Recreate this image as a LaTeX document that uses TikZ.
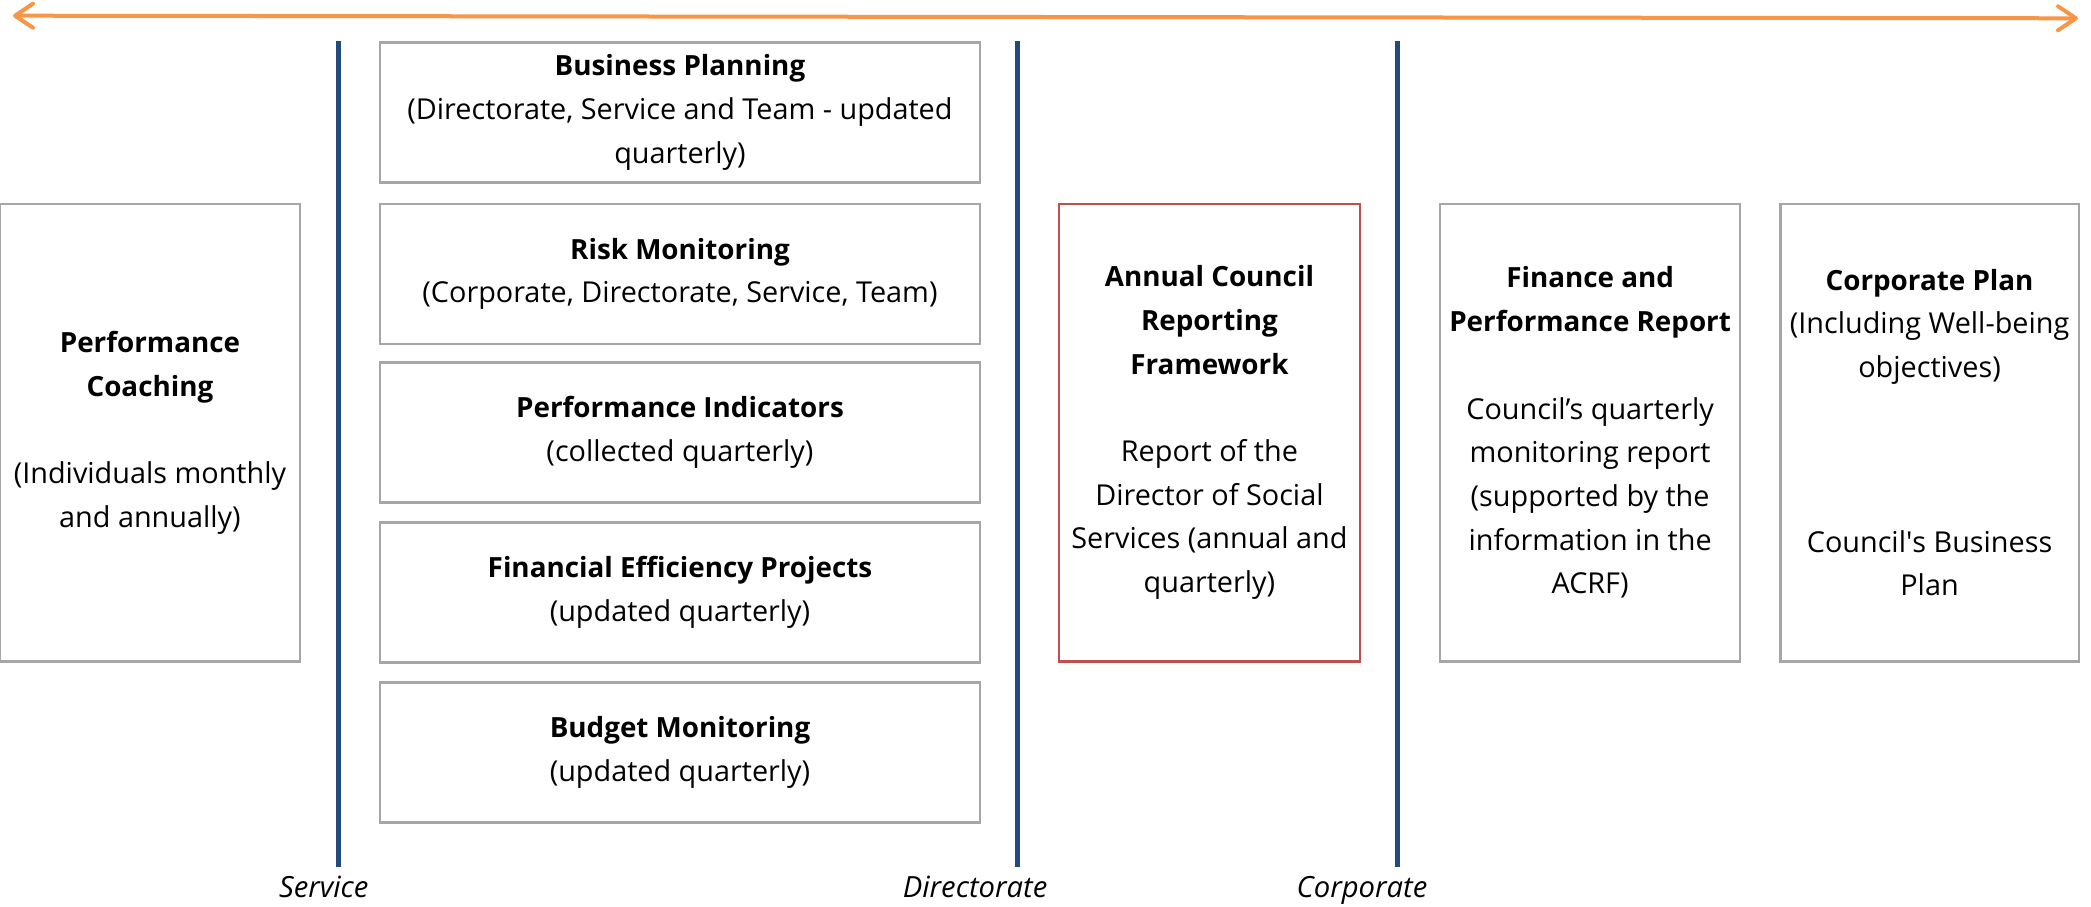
\documentclass[tikz,border=0pt]{standalone}
\usepackage{fontspec}
\setmainfont{Open Sans}
\usetikzlibrary{arrows.meta}
\definecolor{boxgray}{HTML}{A6A6A6}
\definecolor{acrfred}{HTML}{C0504D}
\definecolor{tierblue}{HTML}{24497E}
\definecolor{spanorange}{HTML}{F79646}
% bold panel headings, set a touch smaller than the body text
\newcommand\headline[1]{{\fontsize{27.8}{43.7}\selectfont\bfseries #1}}
% a straight (typewriter) apostrophe
\newcommand\straightquote{\XeTeXglyph\XeTeXcharglyph"27\relax}

\begin{document}
\begin{tikzpicture}[x=1pt,y=-1pt,
  panel/.style={draw=boxgray, line width=2.5pt, inner sep=0pt, align=center,
    anchor=north west, font=\fontsize{28.8}{43.7}\selectfont},
  widepanel/.style={panel, minimum width=600.1pt, minimum height=140pt},
  tallpanel/.style={panel, minimum height=457.3pt},
  tierline/.style={draw=tierblue, line width=4.5pt},
  tierlabel/.style={anchor=base east, inner sep=0pt, font=\fontsize{29.2}{34}\selectfont\itshape},
  span/.style={draw=spanorange, line width=4pt, line cap=round,
    {Straight Barb[length=18pt,width=24pt,round]}-{Straight Barb[length=18pt,width=24pt,round]}}
]
\useasboundingbox (0,0) rectangle (2091,907);

% span arrow across the whole framework
\coordinate (spanL) at (13,15.7);
\coordinate (spanR) at (2078,18.3);
\draw[span] (spanL) -- (spanR);

% tier dividers
\coordinate (svcTop) at (338.7,41.3);   \coordinate (svcBot) at (338.7,866.8);
\coordinate (dirTop) at (1017.5,41.3);  \coordinate (dirBot) at (1017.5,866.8);
\coordinate (corTop) at (1397.5,41.3);  \coordinate (corBot) at (1397.5,866.8);
\draw[tierline] (svcTop) -- (svcBot);
\draw[tierline] (dirTop) -- (dirBot);
\draw[tierline] (corTop) -- (corBot);

\node[tierlabel] (svcLbl) at (368.7,897) {Service};
\node[tierlabel] (dirLbl) at (1047.5,897) {Directorate};
\node[tierlabel] (corLbl) at (1427.5,897) {Corporate};

% individual level
\node[tallpanel, minimum width=300pt] (coach) at (-1.3,202.7)
  {\headline{Performance}\\\headline{Coaching}\\[43.7pt](Individuals monthly\\and annually)};

% service level stack
\node[widepanel] (bplan) at (378.7,41.3)
  {\headline{Business Planning}\\(Directorate, Service and Team - updated\\quarterly)};
\node[widepanel] (risk) at (378.7,202.7)
  {\headline{Risk Monitoring}\\(Corporate, Directorate, Service, Team)};
\node[widepanel] (pind) at (378.7,361.4)
  {\headline{Performance Indicators}\\(collected quarterly)};
\node[widepanel] (feff) at (378.7,521.4)
  {\headline{Financial Efficiency Projects}\\(updated quarterly)};
\node[widepanel] (budget) at (378.7,681.4)
  {\headline{Budget Monitoring}\\(updated quarterly)};

% directorate level
\node[tallpanel, draw=acrfred, minimum width=301.4pt] (acrf) at (1057.5,202.7)
  {\headline{Annual Council}\\\headline{Reporting}\\\headline{Framework}\\[43.7pt]Report of the\\Director of Social\\Services (annual and\\quarterly)};

% corporate level
\node[tallpanel, minimum width=300.1pt] (fpr) at (1438.8,202.7)
  {\headline{Finance and}\\\headline{Performance Report}\\[43.7pt]Council’s quarterly\\monitoring report\\(supported by the\\information in the\\ACRF)};
\node[tallpanel, minimum width=298.6pt] (cplan) at (1779,202.7)
  {\headline{Corporate Plan}\\(Including Well-being\\objectives)\\[131.1pt]Council\straightquote s Business\\Plan};
\end{tikzpicture}
\end{document}
